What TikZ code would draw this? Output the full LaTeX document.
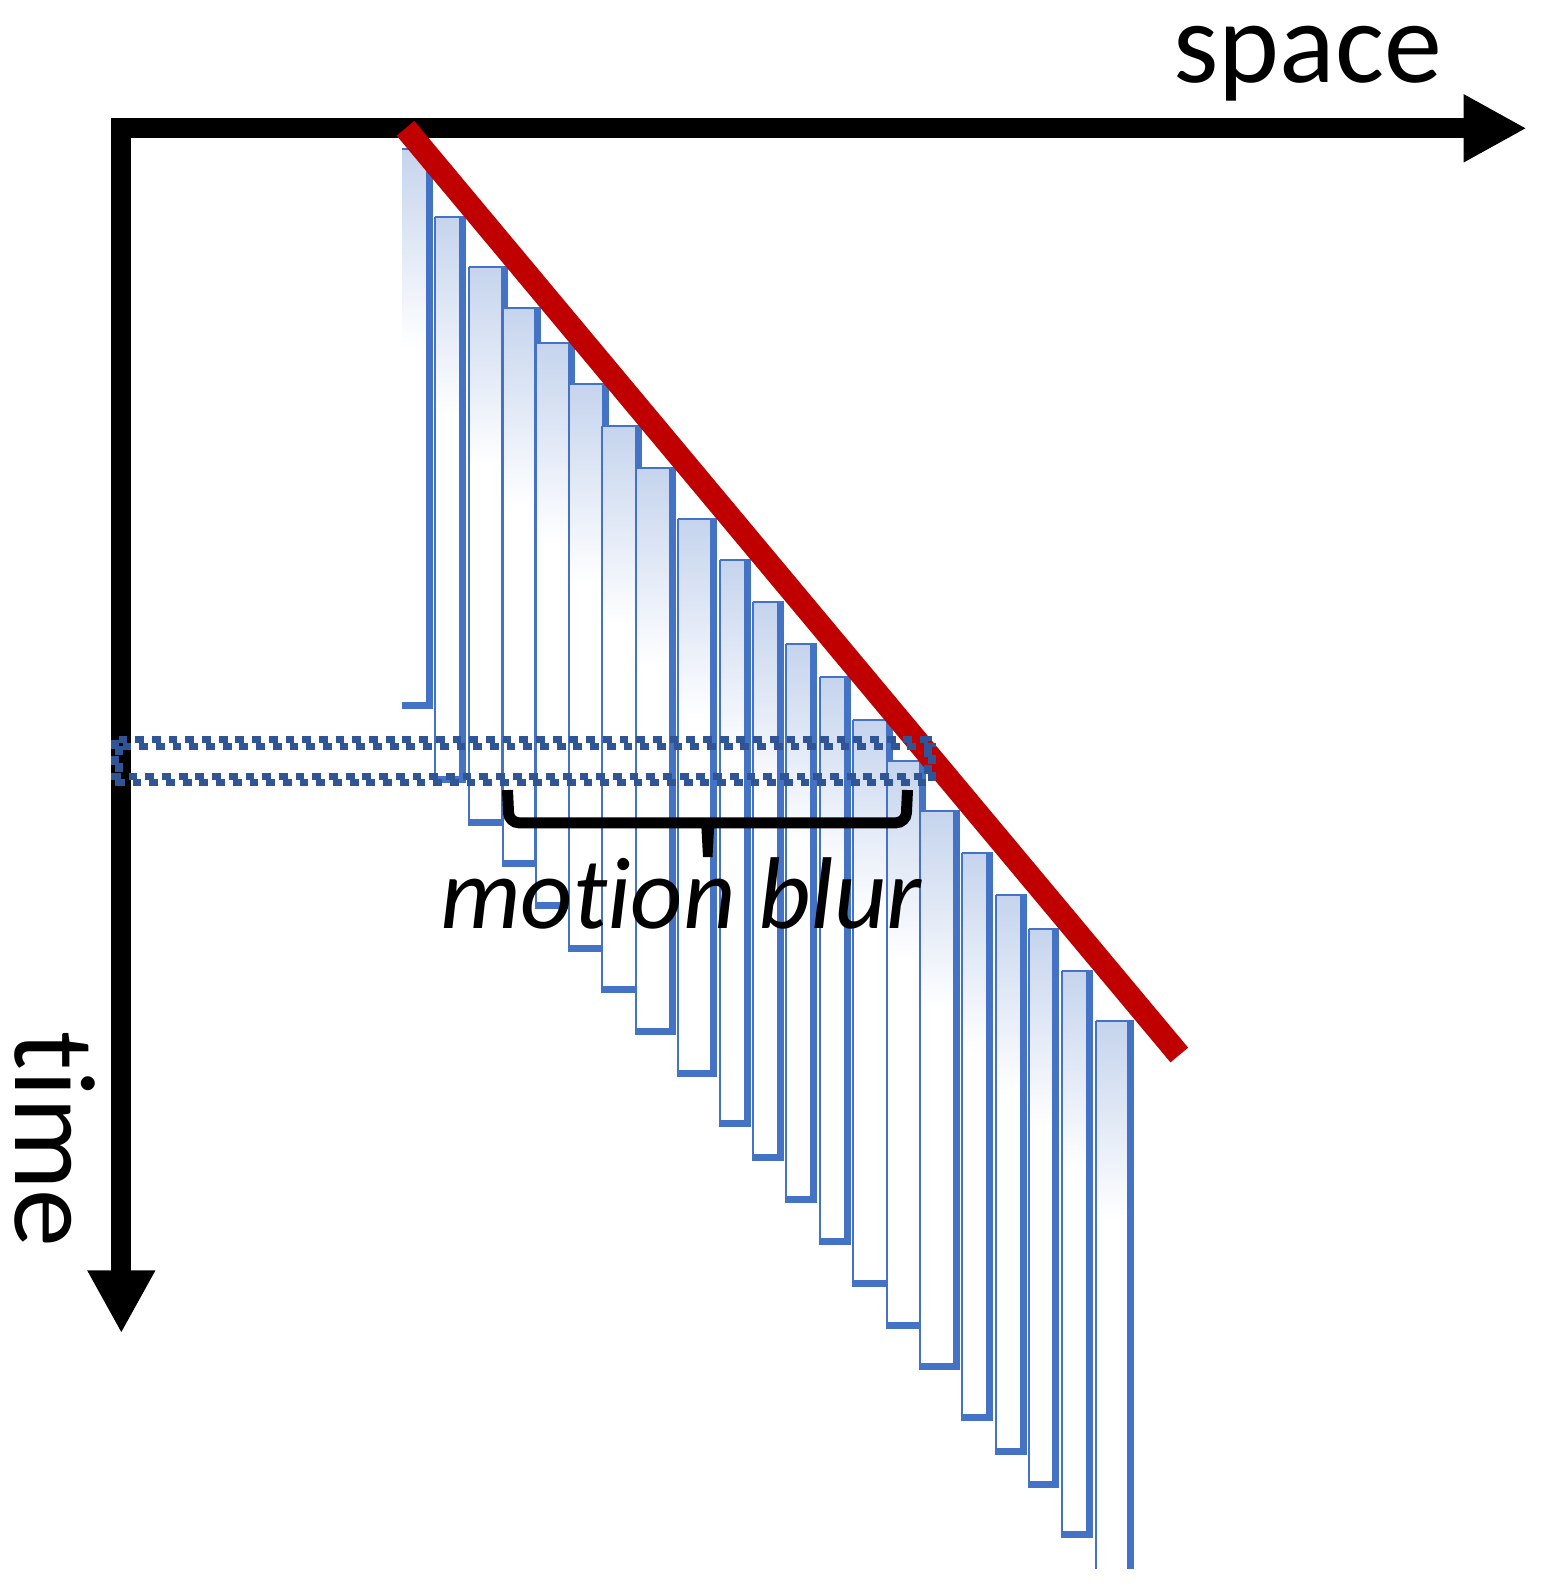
\documentclass[tikz,border=0pt]{standalone}
\usepackage{fontspec}
\setmainfont{Carlito}[Ligatures={NoCommon,NoRare,NoContextual}]
\usetikzlibrary{arrows.meta}
\definecolor{barblue}{RGB}{68,114,196}
\definecolor{barfill}{RGB}{197,212,237}
\definecolor{redline}{RGB}{192,0,0}
\definecolor{dotblue}{RGB}{47,85,151}
\tikzset{
  axisline/.style={line width=10pt,-{Triangle[length=31.5pt,width=31.7pt]}},
  thinedge/.style={barblue,line width=0.6pt},
  dotline/.style={dotblue,line width=3.6pt,dash pattern=on 4.4pt off 3.95pt},
  bigtext/.style={font=\fontsize{58}{60}\selectfont,inner sep=0pt,text height=0.7em,text depth=0.1em},
  blurtext/.style={font=\fontsize{51}{54}\selectfont\itshape,inner sep=0pt},
}
\begin{document}
\begin{tikzpicture}[x=0.5pt,y=-0.5pt]
\useasboundingbox (0,0) rectangle (1547,1591);
% bars
\foreach \xl/\xr/\yt/\yb/\bt/\lf in {
402/433/149/709/1/0,
435/466/217/783/1/1,
469/508/267/826/1/1,
503/541/308/867/1/1,
536/575/343/909/1/1,
569/609/384/952/1/1,
602/642/426/993/1/1,
636/676/468/1035/1/1,
678/717/519/1077/1/1,
720/751/560/1127/1/1,
753/784/602/1161/1/1,
786/817/644/1203/1/1,
820/851/677/1245/1/1,
853/893/720/1287/1/1,
887/926/761/1329/1/1,
920/960/811/1370/1/1,
962/993/853/1421/1/1,
996/1027/895/1455/1/1,
1029/1059/929/1488/1/1,
1062/1093/971/1538/1/1,
1096/1134/1021/1569/0/1}
{
  \fill[white] (\xl,\yt) rectangle (\xr,\yb);
  \shade[top color=barfill,bottom color=white] (\xl,\yt) rectangle (\xr,\yt+200);
  \draw[thinedge] (\xl,\yt) -- (\xr,\yt);
  \ifnum\lf=1 \draw[thinedge] (\xl,\yt) -- (\xl,\yb); \fi
  \fill[barblue] (\xr-6.7,\yt) rectangle (\xr,\yb);
  \ifnum\bt=1 \fill[barblue] (\xl,\yb-6.7) rectangle (\xr,\yb); \fi
}
% axes
\coordinate (hstart) at (111,128.3);
\coordinate (hend) at (1526.7,128.3);
\coordinate (vstart) at (121.3,118.3);
\coordinate (vend) at (121.3,1333.3);
\draw[axisline] (hstart) -- (hend);
\draw[axisline] (vstart) -- (vend);
% red trajectory
\coordinate (redA) at (405.5,128.3);
\coordinate (redB) at (1179.3,1055);
\draw[redline,line width=11.5pt] (redA) -- (redB);
% dotted rectangle
\coordinate (dA) at (117,743);
\coordinate (dB) at (930,779.5);
\draw[dotline] ([xshift=-1pt,yshift=1.65pt]dA) rectangle ([xshift=-1pt,yshift=1.65pt]dB);
\draw[dotline] ([xshift=1pt,yshift=-1.65pt]dA) rectangle ([xshift=1pt,yshift=-1.65pt]dB);
% brace
\coordinate (brL) at (507.5,790);
\coordinate (brR) at (907.5,790);
\draw[line width=5.5pt,rounded corners=5pt] (brL) -- (509,822.8) -- (906,822.8) -- (brR);
\fill (701,820) -- (714.5,820) -- (712.5,857) -- (703,857) -- cycle;
% texts
\node[bigtext,anchor=base] (space) at (1307.8,82.7) {space};
\node[bigtext,anchor=base,rotate=-90] (time) at (16,1139.5) {time};
\node[blurtext,anchor=base] (blur) at (681,928.3) {motion blur};
\end{tikzpicture}
\end{document}
